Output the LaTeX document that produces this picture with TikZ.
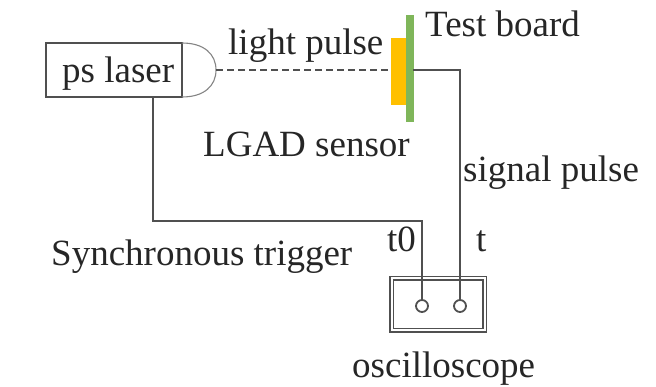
\documentclass[tikz,border=0pt]{standalone}
\usepackage{fontspec}
\setmainfont{Liberation Serif}
\definecolor{boardgreen}{HTML}{7FB65A}
\definecolor{sensororange}{HTML}{FFC000}
\definecolor{wiregray}{HTML}{505050}
\tikzset{
  wire/.style={draw=wiregray, line width=2pt},
  label/.style={font=\fontsize{37}{37}\selectfont, text=black!85, inner sep=0pt, anchor=base west},
  port/.style={circle, draw=wiregray, fill=white, line width=1.8pt, minimum size=12pt, inner sep=0pt},
}
\begin{document}
\begin{tikzpicture}[x=1pt, y=-1pt] % {{{
\useasboundingbox (0,0) rectangle (656,387);
% Laser   {{{
\node[wire, minimum width=136pt, minimum height=54pt, inner sep=0pt] (laser) at (114,70) {};
\node[label] (laserlabel) at (62,83) {ps laser};
\coordinate (domea) at (182,43);
\coordinate (domeb) at (182,97);
\coordinate (domec) at (216,70);
\coordinate (trigstart) at (153,97);
\draw[draw=wiregray!70, line width=1.1pt] (domea) .. controls (204,43) and (216,54) .. (domec) .. controls (216,86) and (204,97) .. (domeb);
% }}}
% Board and sensor   {{{
\node[fill=sensororange, minimum width=15pt, minimum height=67pt, inner sep=0pt] (sensor) at (398.5,71.5) {};
\node[fill=boardgreen, minimum width=8pt, minimum height=107pt, inner sep=0pt] (board) at (409.5,68.5) {};
\coordinate (boardout) at (413,70);
\coordinate (sensorin) at (390,70);
\draw[dashed, draw=wiregray, line width=1.4pt, dash pattern=on 7pt off 4pt] (domec) -- (sensorin);
% }}}
% Oscilloscope   {{{
\node[wire, line width=1.7pt, double=white, double distance=2pt, minimum width=93pt, minimum height=52pt, inner sep=0pt] (scope) at (438,304.5) {};
\coordinate (trigcorner) at (422,221);
\coordinate (sigcorner) at (460,70);
\node[port, draw=none, fill=none] (tzeroport) at (422,306) {};
\node[port, draw=none, fill=none] (tport) at (460,306) {};
\draw[wire] (trigstart) |- (trigcorner) -- (tzeroport);
\draw[wire] (boardout) -- (sigcorner) -- (tport);
\node[port] at (tzeroport) {};
\node[port] at (tport) {};
% }}}
% Labels   {{{
\node[label] (lightlabel) at (228,55) {light pulse};
\node[label] (boardlabel) at (425,37) {Test board};
\node[label] (sensorlabel) at (203,157) {LGAD sensor};
\node[label] (signallabel) at (463,182) {signal pulse};
\node[label] (triglabel) at (51,266) {Synchronous trigger};
\node[label] (tzerolabel) at (387,252) {t0};
\node[label] (tlabel) at (476,252) {t};
\node[label] (scopelabel) at (352,377) {oscilloscope};
% }}}
\end{tikzpicture} % }}}
\end{document}
